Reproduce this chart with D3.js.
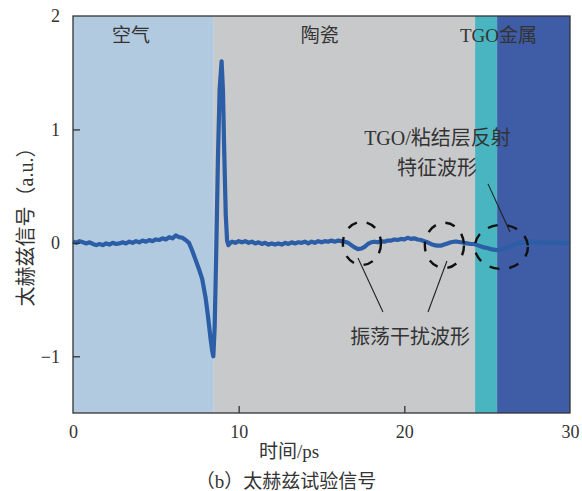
<!DOCTYPE html>
<html>
<head>
<meta charset="utf-8">
<script src="https://cdn.jsdelivr.net/npm/d3@7"></script>
<style>
  body { margin: 0; background: #fff; }
  text { font-family: "Liberation Serif", "Noto Sans CJK SC", serif; fill: #333; }
</style>
</head>
<body>
<svg id="chart" width="582" height="491"></svg>
<script>
// time (ps) and signal (a.u.)
const time = [
  0, 0.2, 0.4, 0.6, 0.8, 1.0, 1.2, 1.4, 1.6, 1.8, 2.0, 2.2, 2.4, 2.6, 2.8, 3.0, 3.2, 3.4, 3.6, 3.8,
  4.0, 4.2, 4.4, 4.6, 4.8, 5.0, 5.2, 5.4, 5.6, 5.8, 6.0, 6.2, 6.4, 6.6, 6.8, 7.0,
  7.2, 7.4, 7.6, 7.8, 8.0, 8.15, 8.3, 8.4, 8.47, 8.55, 8.65, 8.75, 8.85, 8.97, 9.05, 9.13, 9.22, 9.3, 9.38, 9.5,
  9.6, 9.8, 10.0, 10.2, 10.4, 10.6, 10.8, 11.0, 11.2, 11.4, 11.6, 11.8, 12.0, 12.2, 12.4, 12.6, 12.8, 13.0, 13.2, 13.4,
  13.6, 13.8, 14.0, 14.2, 14.4, 14.6, 14.8, 15.0, 15.2, 15.4, 15.6, 15.8, 16.0, 16.2, 16.4, 16.6, 16.8, 17.0, 17.2, 17.4,
  17.6, 17.8, 18.0, 18.2, 18.4, 18.6, 18.8, 19.0, 19.2, 19.4, 19.6, 19.8, 20.0, 20.2, 20.4, 20.6, 20.8, 21.0, 21.2, 21.4,
  21.6, 21.8, 22.0, 22.2, 22.4, 22.6, 22.8, 23.0, 23.2, 23.4, 23.6, 23.8, 24.0, 24.2, 24.4, 24.6, 24.8, 25.0, 25.2, 25.4,
  25.6, 25.8, 26.0, 26.2, 26.4, 26.6, 26.8, 27.0, 27.2, 27.4, 27.6, 27.8, 28.0, 28.2, 28.4, 28.6, 28.8, 29.0, 29.2, 29.4,
  29.6, 29.8, 30.0]
const signal = [
  0.01, 0.0, 0.015, 0.005, -0.005, 0.005, -0.01, -0.02, -0.01, -0.02, -0.005, -0.015, 0.0, -0.01, -0.005, 0.005, -0.005, 0.01, 0.0, 0.015,
  0.005, 0.02, 0.01, 0.025, 0.015, 0.03, 0.025, 0.04, 0.03, 0.05, 0.04, 0.065, 0.05, 0.045, 0.025, 0.0,
  -0.07, -0.15, -0.23, -0.32, -0.48, -0.65, -0.84, -0.95, -1.0, -0.75, -0.05, 0.75, 1.35, 1.6, 1.35, 0.8, 0.25, 0.02, -0.02, 0.0,
  0.01, 0.0, 0.015, 0.005, 0.015, 0.0, 0.01, -0.005, 0.005, -0.01, 0.0, -0.015, -0.005, -0.015, -0.005, -0.015, 0.0, -0.01, 0.005, -0.005,
  0.005, 0.0, 0.01, -0.005, 0.01, 0.0, 0.015, 0.005, 0.015, 0.01, 0.02, 0.01, 0.02, 0.015, 0.01, 0.0, -0.02, -0.04, -0.055, -0.05,
  -0.035, -0.01, 0.005, 0.01, 0.005, 0.015, 0.01, 0.02, 0.02, 0.03, 0.025, 0.035, 0.03, 0.045, 0.035, 0.04, 0.03, 0.025, 0.015, 0.005,
  -0.01, -0.02, -0.025, -0.025, -0.015, -0.005, 0.005, 0.01, 0.01, 0.005, 0.0, -0.005, -0.01, -0.01, -0.02, -0.03, -0.04, -0.045, -0.055, -0.06,
  -0.065, -0.06, -0.05, -0.04, -0.03, -0.015, -0.005, 0.0, 0.005, 0.01, 0.01, 0.01, 0.005, 0.005, 0.0, 0.005, 0.0, 0.0, 0.005, 0.0,
  -0.005, 0.0, -0.005]

// layers: start, end, colour
const layerBounds = [[0, 8.5], [8.5, 24.27], [24.27, 25.6], [25.6, 30]]
const layerColors = ['#b2cadf', '#c8c9cb', '#48b5c0', '#3f5ca6']
const layerLabels = [['空气', 3.5], ['陶瓷', 14.9], ['TGO金属', 25.68]]

const xTicks = [0, 10, 20, 30]
const yTicks = [-1, 0, 1, 2]

// dashed ellipses: centre t, centre v, rx (ps), ry (a.u.)
const ellipses = [[17.44, -0.005, 1.15, 0.19], [22.42, -0.023, 1.18, 0.2], [25.86, -0.036, 1.6, 0.194]]
// leader lines [t1, v1, t2, v2]
const leaders = [[17.2, -0.133, 18.71, -0.609], [22.57, -0.16, 21.43, -0.609], [25.05, 0.52, 26.38, 0.096]]
const notes = [['振荡干扰波形', 20.35, -0.83], ['TGO/粘结层反射', 22.0, 0.925], ['特征波形', 21.97, 0.66]]

const svg = d3.select('#chart')
const mLeft = 73, mTop = 16, mRight = 570, mBottom = 413

const x = d3.scaleLinear().domain([0, 30]).range([mLeft, mRight])
const y = d3.scaleLinear().domain([-1.5, 2]).range([mBottom, mTop])

// background layers
svg.selectAll('rect.layer').data(layerBounds).enter().append('rect')
  .attr('class', 'layer')
  .attr('x', d => x(d[0]))
  .attr('width', d => x(d[1]) - x(d[0]))
  .attr('y', mTop)
  .attr('height', mBottom - mTop)
  .attr('fill', (d, i) => layerColors[i])

// signal line
const pts = time.map((t, i) => [t, signal[i]])
const line = d3.line().x(d => x(d[0])).y(d => y(d[1]))
svg.append('path').attr('d', line(pts))
  .attr('fill', 'none').attr('stroke', '#2b5ea6').attr('stroke-width', 4.2)
  .attr('stroke-linejoin', 'round')

// frame
svg.append('rect').attr('x', mLeft).attr('y', mTop).attr('width', mRight - mLeft).attr('height', mBottom - mTop)
  .attr('fill', 'none').attr('stroke', '#333').attr('stroke-width', 1.3)

// axes with inward ticks
const xAxis = svg.append('g').attr('transform', `translate(0,${mBottom})`)
  .call(d3.axisBottom(x).tickValues(xTicks).tickSize(-7).tickPadding(12).tickFormat(d3.format('d')))
const yAxis = svg.append('g').attr('transform', `translate(${mLeft},0)`)
  .call(d3.axisLeft(y).tickValues(yTicks).tickSize(-7).tickPadding(13).tickFormat(d => d < 0 ? '\u2212' + Math.abs(d) : d))
;[xAxis, yAxis].forEach(g => {
  g.select('.domain').remove()
  g.selectAll('line').attr('stroke', '#333').attr('stroke-width', 1.3)
  g.selectAll('text').style('font-family', '"Liberation Serif", serif').style('font-size', '18px').attr('fill', '#333')
})
xAxis.selectAll('.tick').filter(d => d === 0 || d === 30).select('line').remove()
yAxis.selectAll('.tick').filter(d => d === 2).select('line').remove()

// layer labels
svg.selectAll('text.layerlab').data(layerLabels).enter().append('text')
  .attr('class', 'layerlab')
  .attr('x', d => x(d[1])).attr('y', y(1.824))
  .attr('text-anchor', 'middle').attr('dominant-baseline', 'central')
  .style('font-size', '19px')
  .text(d => d[0])

// annotations
svg.selectAll('ellipse').data(ellipses).enter().append('ellipse')
  .attr('cx', d => x(d[0])).attr('cy', d => y(d[1]))
  .attr('rx', d => x(d[2]) - x(0)).attr('ry', d => y(0) - y(d[3]))
  .attr('fill', 'none').attr('stroke', '#111').attr('stroke-width', 2.4)
  .attr('stroke-dasharray', '10,10')

svg.selectAll('line.leader').data(leaders).enter().append('line')
  .attr('class', 'leader')
  .attr('x1', d => x(d[0])).attr('y1', d => y(d[1]))
  .attr('x2', d => x(d[2])).attr('y2', d => y(d[3]))
  .attr('stroke', '#222').attr('stroke-width', 1.1)

svg.selectAll('text.note').data(notes).enter().append('text')
  .attr('class', 'note')
  .attr('x', d => x(d[1])).attr('y', d => y(d[2]))
  .attr('text-anchor', 'middle').attr('dominant-baseline', 'central')
  .style('font-size', '20px')
  .text(d => d[0])

// axis titles
svg.append('text').attr('x', 289).attr('y', 451)
  .attr('text-anchor', 'middle').attr('dominant-baseline', 'central')
  .style('font-size', '19px').text('时间/ps')
svg.append('text').attr('x', 286).attr('y', 481)
  .attr('text-anchor', 'middle').attr('dominant-baseline', 'central')
  .style('font-size', '19px').text('（b）太赫兹试验信号')
svg.append('text').attr('transform', 'translate(26,222) rotate(-90)')
  .attr('text-anchor', 'middle').attr('dominant-baseline', 'central')
  .style('font-size', '20px').text('太赫兹信号（a.u.）')
</script>
</body>
</html>
